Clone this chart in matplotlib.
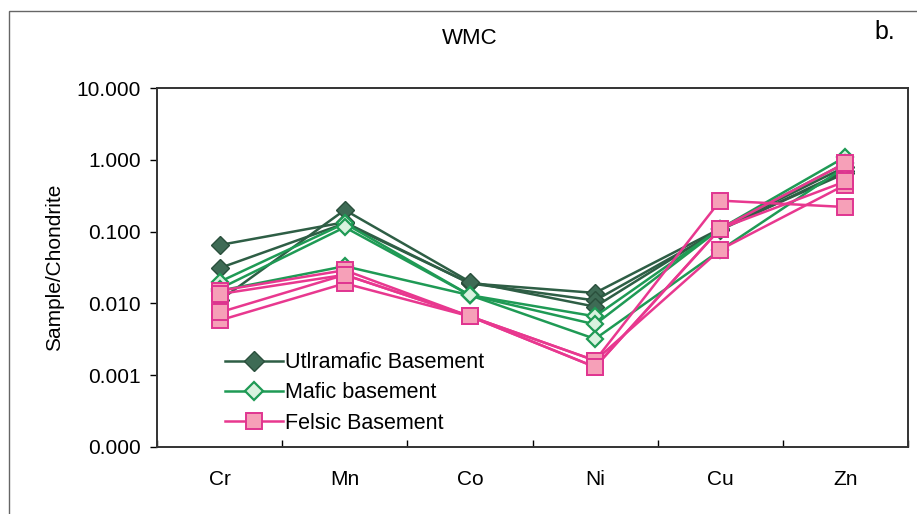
import numpy as np
import matplotlib.pyplot as plt
from matplotlib.patches import Rectangle
from matplotlib.ticker import FixedLocator, FixedFormatter

elements = ['Cr', 'Mn', 'Co', 'Ni', 'Cu', 'Zn']

# sample/chondrite ratios
ultramafic = [
    [0.065, 0.135, 0.019, 0.014, 0.110, 0.65],
    [0.031, 0.130, 0.019, 0.011, 0.105, 0.70],
    [0.011, 0.200, 0.020, 0.009, 0.110, 0.80],
]
mafic = [
    [0.020, 0.130, 0.013, 0.0066, 0.110, 1.10],
    [0.016, 0.115, 0.013, 0.0051, 0.110, 0.90],
    [0.015, 0.033, 0.013, 0.0032, 0.055, 0.80],
]
felsic = [
    [0.015, 0.029, 0.0066, 0.0016, 0.270, 0.22],
    [0.0135, 0.025, 0.0066, 0.0013, 0.110, 0.90],
    [0.0058, 0.019, 0.0066, 0.0016, 0.056, 0.45],
    [0.0075, 0.025, 0.0066, 0.0013, 0.110, 0.50],
]

yticks = [0.0001, 0.001, 0.01, 0.1, 1, 10]
ylabels = ['0.000', '0.001', '0.010', '0.100', '1.000', '10.000']

plt.rcParams['font.family'] = ['Liberation Sans', 'DejaVu Sans']

fig = plt.figure(figsize=(9.17, 5.14), dpi=100)
ax = fig.add_axes([157/917, 1-447/514, (908-157)/917, (447-88)/514])

u_style = dict(color='#2e5e45', lw=1.8, marker='D', mfc='#3e6b55', mec='#2a4f3c')
m_style = dict(color='#1f9a55', lw=1.8, marker='D', mfc='#d9f2df', mec='#1f9a55', mew=1.6)
f_style = dict(color='#e8388f', lw=1.8, marker='s', mfc='#f6a0b8', mec='#e03590', mew=1.4)

x = np.arange(len(elements))
for s in ultramafic:
    ax.plot(x, s, ms=9.5, **u_style)
for s in mafic:
    ax.plot(x, s, ms=8.5, **m_style)
for s in felsic:
    ax.plot(x, s, ms=11, **f_style)

# legend proxies
h1, = ax.plot([], [], ms=10, **u_style)
h2, = ax.plot([], [], ms=9, **m_style)
h3, = ax.plot([], [], ms=11, **f_style)
fig.legend([h1, h2, h3], ['Utlramafic Basement', 'Mafic basement', 'Felsic Basement'],
           loc='center left', bbox_to_anchor=(225/917, 1-393/514), frameon=False,
           fontsize=15.5, handlelength=2.7, handletextpad=0.1, labelspacing=0.42,
           borderpad=0, borderaxespad=0)

ax.set_yscale('log')
ax.set_ylim(0.0001, 10)
ax.yaxis.set_major_locator(FixedLocator(yticks))
ax.yaxis.set_major_formatter(FixedFormatter(ylabels))
ax.yaxis.set_minor_locator(FixedLocator([]))
ax.set_xlim(-0.5, len(elements) - 0.5)
ax.set_xticks(np.arange(len(elements) + 1) - 0.5)
ax.set_xticklabels([])
ax.tick_params(axis='x', direction='in', length=5, width=1)
ax.tick_params(axis='y', direction='out', length=5, width=1, labelsize=15, pad=6.5)
for i, e in enumerate(elements):
    ax.text(i, -0.09, e, transform=ax.get_xaxis_transform(), ha='center',
            va='center', fontsize=15)
for sp in ax.spines.values():
    sp.set_linewidth(1.4)
    sp.set_color('#333333')
ax.set_ylabel('Sample/Chondrite', fontsize=15)
ax.yaxis.set_label_coords((64-157)/751, 0.5)

fig.text(470/917, 1-38/514, 'WMC', ha='center', va='center', fontsize=16)
fig.text(885/917, 1-32/514, 'b.', ha='center', va='center', fontsize=18)

fig.patches.append(Rectangle((9/917, -0.05), 1.0, 1-11/514+0.05, transform=fig.transFigure,
                             fill=False, ec='#666666', lw=1))

fig.savefig('out.png', dpi=100)
